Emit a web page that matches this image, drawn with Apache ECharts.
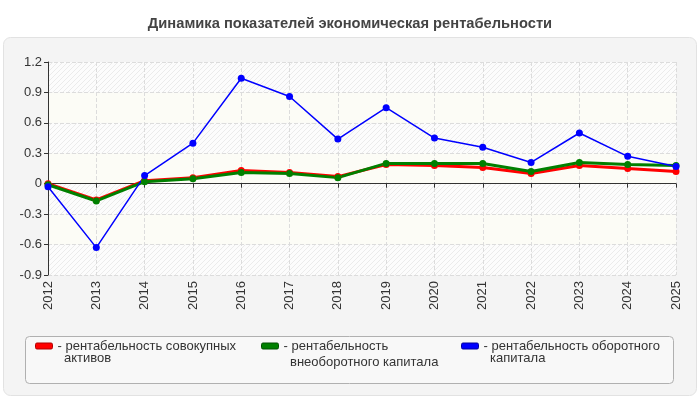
<!DOCTYPE html>
<html>
<head>
<meta charset="utf-8">
<script src="https://cdn.jsdelivr.net/npm/echarts@6/dist/echarts.min.js"></script>
<style>
html,body{margin:0;padding:0;background:#fff;}
#box{width:700px;height:400px;}
</style>
</head>
<body>
<div id="box"></div>
<script>
var years = ['2012','2013','2014','2015','2016','2017','2018','2019','2020','2021','2022','2023','2024','2025'];
var totalAssets = [0.00,-0.16,0.03,0.06,0.13,0.11,0.07,0.19,0.18,0.16,0.10,0.18,0.15,0.12];//совокупных активов
var fixedAssets = [-0.01,-0.17,0.02,0.05,0.11,0.10,0.06,0.20,0.20,0.20,0.12,0.21,0.19,0.18];//внеоборотного капитала
var currentAssets = [-0.03,-0.63,0.08,0.40,1.04,0.86,0.44,0.75,0.45,0.36,0.21,0.50,0.27,0.17];//оборотного капитала
var seriesNames = ['рентабельность совокупных','рентабельность','рентабельность оборотного'];
var nameTails = ['активов','внеоборотного капитала','капитала'];//вторая строка легенды
var yTicks = {min:-0.9, max:1.2, interval:0.3};

// штриховка для полос фона
var cv = document.createElement('canvas');
cv.width = 5; cv.height = 5;
var cx = cv.getContext('2d');
cx.fillStyle = '#fcfcfc';
cx.fillRect(0,0,5,5);
cx.strokeStyle = '#ebebeb';
cx.lineWidth = 1;
cx.beginPath();
cx.moveTo(0,5);cx.lineTo(5,0);
cx.moveTo(-2.5,2.5);cx.lineTo(2.5,-2.5);
cx.moveTo(2.5,7.5);cx.lineTo(7.5,2.5);
cx.stroke();

var font = 'Liberation Sans, Arial, sans-serif';

function mkLegend(name, left, border){
	return {
		data:[name],
		left:left,
		top:339,
		padding:0,
		icon:'roundRect',
		itemWidth:17,
		itemHeight:6,
		selectedMode:false,
		itemStyle:{borderColor:border,borderWidth:1},
		formatter:function(n){return '- ' + n;},
		textStyle:{color:'#333',fontSize:13,fontFamily:font,lineHeight:14}
	};
}

function mkTail(text, x, y){
	return {type:'text',x:x,y:y,style:{text:text,fill:'#333',font:'13px ' + font,textVerticalAlign:'middle'}};
}

function mkSeries(name, data, color, width){
	return {
		name:name,
		type:'line',
		data:data,
		symbol:'circle',
		symbolSize:7,
		lineStyle:{color:color,width:width},
		itemStyle:{color:color},
		animation:false
	};
}

var dom = document.getElementById('box');
var myChart = echarts.init(dom);
var option = {
	animation:false,
	title:{
		text:'Динамика показателей экономическая рентабельности',
		left:'center',
		top:11,
		textStyle:{color:'#444',fontSize:14.7,fontWeight:'bold',fontFamily:font}
	},
	graphic:[
		{type:'rect',z:-10,shape:{x:3.5,y:37.5,width:693,height:358,r:7},style:{fill:'#f4f4f4',stroke:'#e2e2e2',lineWidth:1}},
		{type:'rect',z:-9,shape:{x:25.5,y:336.5,width:648,height:47,r:4},style:{fill:'#f8f8f8',stroke:'#b0b0b0',lineWidth:1}},
		mkTail(nameTails[0],64,358),
		mkTail(nameTails[1],290,362),
		mkTail(nameTails[2],490,358)
	],
	legend:[
		mkLegend(seriesNames[0],35,'#b00000'),
		mkLegend(seriesNames[1],261,'#005000'),
		mkLegend(seriesNames[2],461,'#0000a0')
	],
	grid:{left:48,right:24,top:62,bottom:125},
	xAxis:{
		type:'category',
		data:years,
		boundaryGap:false,
		axisLine:{lineStyle:{color:'#333'}},
		axisTick:{show:true,alignWithLabel:true,lineStyle:{color:'#333'},length:4},
		axisLabel:{rotate:90,color:'#333',fontSize:13,fontFamily:font,margin:6},
		splitLine:{show:true,lineStyle:{color:'#dcdcdc',type:'dashed'}}
	},
	yAxis:{
		type:'value',
		min:yTicks.min,
		max:yTicks.max,
		interval:yTicks.interval,
		axisLine:{show:true,lineStyle:{color:'#333'}},
		axisTick:{show:true,lineStyle:{color:'#333'},length:4},
		axisLabel:{color:'#333',fontSize:13,fontFamily:font,margin:6,formatter:function(v){return +v.toFixed(1);}},
		splitLine:{show:true,lineStyle:{color:'#dcdcdc',type:'dashed'}},
		splitArea:{show:true,areaStyle:{color:[{image:cv,repeat:'repeat'},'#fcfcf6']}}
	},
	series:[
		mkSeries(seriesNames[0],totalAssets,'#ff0000',3),
		mkSeries(seriesNames[1],fixedAssets,'#008000',3),
		mkSeries(seriesNames[2],currentAssets,'#0000ff',1.5)
	]
};
myChart.setOption(option, true);
</script>
</body>
</html>
